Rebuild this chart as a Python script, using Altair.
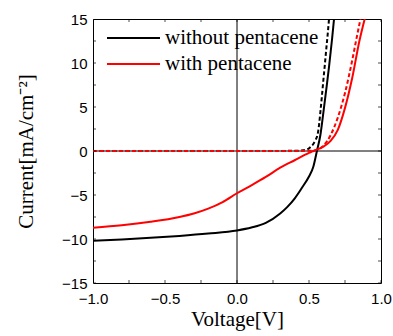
import altair as alt
import pandas as pd

# ---- data ----
series_names = ["without pentacene", "with pentacene"]

v_without_light = [-1.0, -0.8, -0.6, -0.4, -0.2, 0.0, 0.1, 0.2, 0.3, 0.35, 0.4, 0.45, 0.5, 0.53,
                   0.555, 0.58, 0.6, 0.62, 0.64, 0.66, 0.675]
j_without_light = [-10.2, -10.05, -9.87, -9.65, -9.38, -9.03, -8.7, -8.17, -7.1, -6.35, -5.4, -4.2,
                   -2.9, -1.8, 0.0, 1.9, 4.4, 7.0, 9.7, 12.7, 15.2]

v_without_dark = [-1.0, 0.0, 0.4, 0.45, 0.49, 0.51, 0.53, 0.545, 0.56, 0.57, 0.58, 0.59, 0.6,
                  0.61, 0.62, 0.63, 0.64]
j_without_dark = [0.0, 0.0, 0.02, 0.06, 0.2, 0.45, 0.8, 1.25, 1.9, 3.0, 4.6, 6.3, 8.1,
                  9.8, 11.6, 13.3, 15.2]

v_with_light = [-1.0, -0.8, -0.6, -0.4, -0.3, -0.2, -0.1, 0.0, 0.1, 0.2, 0.3, 0.4, 0.5, 0.53, 0.6,
                0.65, 0.7, 0.75, 0.8, 0.85, 0.89]
j_with_light = [-8.73, -8.45, -8.05, -7.5, -7.1, -6.55, -5.8, -4.8, -3.9, -2.95, -1.9, -1.05, -0.22,
                0.0, 0.5, 1.15, 2.4, 4.9, 8.3, 12.5, 15.2]

v_with_dark = [-1.0, 0.0, 0.4, 0.5, 0.55, 0.6, 0.65, 0.7, 0.75, 0.8, 0.83, 0.86]
j_with_dark = [0.0, 0.0, 0.0, 0.03, 0.1, 0.6, 1.8, 3.8, 6.6, 10.3, 12.8, 15.2]

x_label_values = [-1.0, -0.5, 0.0, 0.5, 1.0]
y_label_values = [-15, -10, -5, 0, 5, 10, 15]
x_tick_values = [-1.0, -0.75, -0.5, -0.25, 0.0, 0.25, 0.5, 0.75, 1.0]
y_tick_values = [-15, -12.5, -10, -7.5, -5, -2.5, 0, 2.5, 5, 7.5, 10, 12.5, 15]
zero_values = [0.0]

# ---- tables ----
rows = []
for name, vs, js in [
    (series_names[0], v_without_light, j_without_light),
    (series_names[1], v_with_light, j_with_light),
]:
    for v, j in zip(vs, js):
        rows.append({"sample": name, "V": v, "J": j})
df_light = pd.DataFrame(rows)

rows = []
for name, vs, js in [
    (series_names[0], v_without_dark, j_without_dark),
    (series_names[1], v_with_dark, j_with_dark),
]:
    for v, j in zip(vs, js):
        rows.append({"sample": name, "V": v, "J": j})
df_dark = pd.DataFrame(rows)

df_xt = pd.DataFrame({"V": x_tick_values})
df_yt = pd.DataFrame({"J": y_tick_values})
df_zero = pd.DataFrame({"V": zero_values, "J": zero_values})

W, H = 288, 264
xs = alt.Scale(domain=[-1, 1], nice=False, zero=False)
ys = alt.Scale(domain=[-15, 15], nice=False, zero=False)

SERIF = "Liberation Serif"
SANS = "Liberation Sans"

x_axis = alt.Axis(values=x_label_values, format=".1f", title="Voltage[V]", ticks=False,
                  domain=False, grid=False, labelFont=SANS, labelFontSize=15,
                  labelColor="black", labelPadding=8, labelFlush=False, labelOverlap=False,
                  titleFont=SERIF, titleFontSize=21, titleFontWeight="normal",
                  titleColor="black", titleBaseline="alphabetic", titleY=42.5)
y_axis = alt.Axis(values=y_label_values, format="d", title="Current[mA/cm⁻²]", ticks=False,
                  domain=False, grid=False, labelFont=SANS, labelFontSize=15,
                  labelColor="black", labelPadding=6, labelFlush=False, labelOverlap=False,
                  titleFont=SERIF, titleFontSize=21, titleFontWeight="normal",
                  titleColor="black", titlePadding=25)

X = alt.X("V:Q", scale=xs, axis=x_axis)
Y = alt.Y("J:Q", scale=ys, axis=y_axis)

color = alt.Color(
    "sample:N",
    scale=alt.Scale(domain=series_names, range=["#000000", "#ff0000"]),
    legend=alt.Legend(
        title=None, orient="none", legendX=13, legendY=6, symbolType="stroke",
        symbolSize=2809, symbolStrokeWidth=2, labelFont=SERIF,
        labelFontSize=21, labelColor="black", labelOffset=4, clipHeight=26,
        rowPadding=0, padding=0,
    ),
)

zero_v = alt.Chart(df_zero).mark_rule(color="black", strokeWidth=1).encode(x=X)
zero_h = alt.Chart(df_zero).mark_rule(color="black", strokeWidth=1).encode(y=Y)

dark = alt.Chart(df_dark).mark_line(strokeWidth=2, strokeDash=[4, 2.5], clip=True,
                                    interpolate="monotone").encode(
    x=X, y=Y, color=color, order=alt.Order("V:Q"))
light = alt.Chart(df_light).mark_line(strokeWidth=2, clip=True,
                                      interpolate="monotone").encode(
    x=X, y=Y, color=color, order=alt.Order("V:Q"))

tick_kw = dict(color="black", size=6, thickness=1, clip=True)
tick_left = alt.Chart(df_yt).mark_tick(orient="horizontal", **tick_kw).encode(
    y=Y, x=alt.value(0))
tick_right = alt.Chart(df_yt).mark_tick(orient="horizontal", **tick_kw).encode(
    y=Y, x=alt.value(W))
tick_bottom = alt.Chart(df_xt).mark_tick(orient="vertical", **tick_kw).encode(
    x=X, y=alt.value(H))
tick_top = alt.Chart(df_xt).mark_tick(orient="vertical", **tick_kw).encode(
    x=X, y=alt.value(0))

chart = alt.layer(
    zero_v, zero_h, dark, light, tick_left, tick_right, tick_bottom, tick_top
).properties(
    width=W, height=H,
    autosize=alt.AutoSizeParams(type="none"),
    padding={"left": 93, "top": 19, "right": 12, "bottom": 53},
    background="white",
).configure(font=SERIF).configure_view(stroke="black", strokeWidth=1).configure_legend(
    labelFont=SERIF, labelFontSize=21
)

chart.save("out.html", embed_options={"renderer": "svg", "actions": False})
